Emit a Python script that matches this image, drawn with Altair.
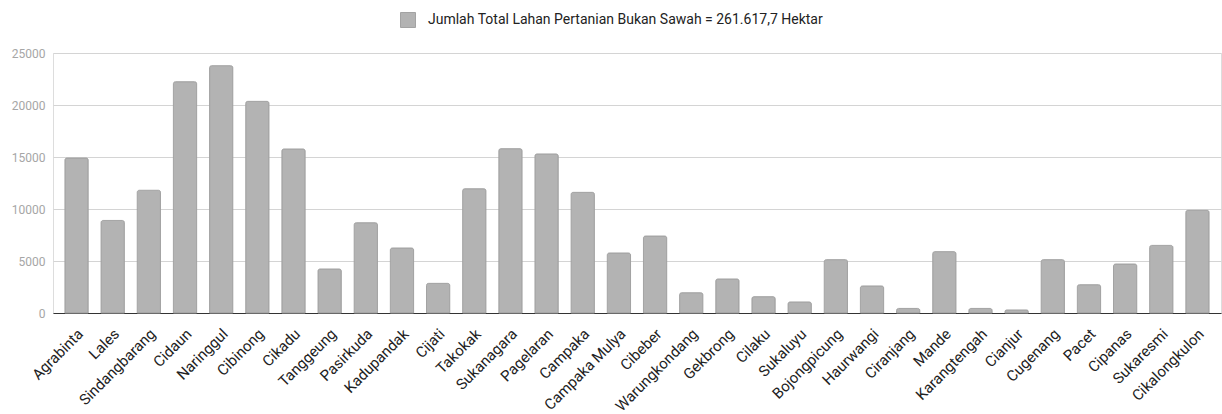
import altair as alt
import pandas as pd

kecamatan = ["Agrabinta", "Lales", "Sindangbarang", "Cidaun", "Naringgul", "Cibinong",
             "Cikadu", "Tanggeung", "Pasirkuda", "Kadupandak", "Cijati", "Takokak",
             "Sukanagara", "Pagelaran", "Campaka", "Campaka Mulya", "Cibeber",
             "Warungkondang", "Gekbrong", "Cilaku", "Sukaluyu", "Bojongpicung",
             "Haurwangi", "Ciranjang", "Mande", "Karangtengah", "Cianjur", "Cugenang",
             "Pacet", "Cipanas", "Sukaresmi", "Cikalongkulon"]
luas = [14900, 8900, 11800, 22240, 23780, 20350,
        15770, 4230, 8680, 6250, 2850, 11950,
        15800, 15290, 11600, 5770, 7400,
        1950, 3270, 1570, 1060, 5130,
        2600, 440, 5900, 440, 290, 5130,
        2720, 4710, 6500, 9870]
series_name = "Jumlah Total Lahan Pertanian Bukan Sawah = 261.617,7 Hektar"
y_ticks = [0, 5000, 10000, 15000, 20000, 25000]

df = pd.DataFrame({"Kecamatan": kecamatan, "Luas": luas, "Seri": [series_name] * len(luas)})

FONT = "Roboto"

chart = alt.Chart(df).mark_bar(
    cornerRadiusTopLeft=2, cornerRadiusTopRight=2,
    stroke="#a3a3a3", strokeWidth=1
).encode(
    x=alt.X("Kecamatan:N", sort=None,
            scale=alt.Scale(paddingInner=0.357, paddingOuter=0.33),
            axis=alt.Axis(title=None, labelAngle=-45, labelAlign="right", labelBaseline="middle",
                          labelFontSize=15, labelColor="#222222", labelFont=FONT,
                          ticks=False, domain=True, domainColor="#333333", domainWidth=1,
                          labelPadding=18, labelOffset=4, grid=False, labelOverlap=False)),
    y=alt.Y("Luas:Q",
            scale=alt.Scale(domain=[0, 25000], nice=False),
            axis=alt.Axis(title=None, values=y_ticks, format="d", labelFontSize=12,
                          labelColor="#a6a6a6", labelFont=FONT, ticks=False, domain=False,
                          labelPadding=8, gridColor="#d4d4d4", gridWidth=1)),
    color=alt.Color("Seri:N",
                    scale=alt.Scale(domain=[series_name], range=["#b3b3b3"]),
                    legend=alt.Legend(title=None, orient="none", legendX=347, legendY=-41,
                                      symbolType="square", symbolSize=225,
                                      symbolStrokeColor="#a3a3a3", symbolStrokeWidth=1,
                                      labelFontSize=14, labelColor="#222222", labelFont=FONT,
                                      labelOffset=12, labelLimit=600))
).properties(
    width=1168, height=260,
    autosize=alt.AutoSizeParams(type="none"),
    padding={"left": 53, "top": 53, "right": 1, "bottom": 101}
).configure_view(stroke=None).configure(background="white")

chart.save("out.html", embed_options={"renderer": "svg", "actions": False})
